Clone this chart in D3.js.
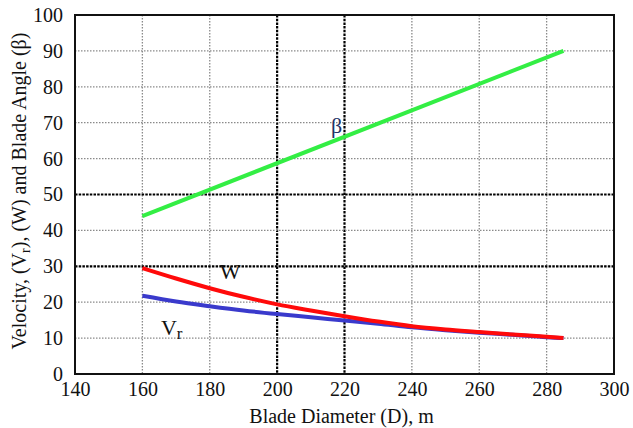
<!DOCTYPE html>
<html>
<head>
<meta charset="utf-8">
<script src="https://cdn.jsdelivr.net/npm/d3@7"></script>
</head>
<body style="margin:0;background:#fff;font-family:'Liberation Serif'">
<svg id="chart" width="633" height="428" style="font-family:'Liberation Serif'"></svg>
<script>

// Data
// ==============================================

var diameter = [160, 170, 180, 190, 200, 210, 220, 230, 240, 250, 260, 270, 280, 285];
var wValues  = [29.5, 26.6, 23.9, 21.5, 19.4, 17.7, 16.1, 14.6, 13.3, 12.4, 11.7, 11.0, 10.35, 10.0];
var vrValues = [21.8, 20.2, 18.9, 17.7, 16.7, 15.8, 14.9, 14.0, 13.0, 12.2, 11.5, 10.9, 10.25, 10.0];
var betaEnds = [[160, 44], [285, 90]];

var xTicks = [140, 160, 180, 200, 220, 240, 260, 280, 300];
var yTicks = [0, 10, 20, 30, 40, 50, 60, 70, 80, 90, 100];
var strongX = [200, 220];
var strongY = [30, 50];

function fontStyle(size){
	return "font-family:'Liberation Serif';font-size:" + size + "px";
}

// Layout
// ==============================================

var svg = d3.select("#chart"),
	margin = {top: 15, right: 19, bottom: 54, left: 75},
	width = 633 - margin.left - margin.right,
	height = 428 - margin.top - margin.bottom;

var g = svg.append("g")
	.attr("transform", "translate(" + margin.left + "," + margin.top + ")");

var xScale = d3.scaleLinear().domain([140, 300]).range([0, width]);
var yScale = d3.scaleLinear().domain([0, 100]).range([height, 0]);

// Grid
// ==============================================

function isStrong(d, axis){
	return (axis === "x" ? strongX : strongY).indexOf(d) >= 0;
}

g.selectAll("line.gx")
	.data(xTicks.slice(1, -1))
	.enter().append("line")
	.attr("class", "gx")
	.attr("x1", function(d){ return xScale(d); })
	.attr("x2", function(d){ return xScale(d); })
	.attr("y1", 0)
	.attr("y2", height)
	.attr("stroke", function(d){ return isStrong(d, "x") ? "#000" : "#8a8a8a"; })
	.attr("stroke-width", function(d){ return isStrong(d, "x") ? 2.2 : 1.3; })
	.attr("stroke-dasharray", function(d){ return isStrong(d, "x") ? "2.5,1.2" : "1.5,1.5"; });

g.selectAll("line.gy")
	.data(yTicks.slice(1, -1))
	.enter().append("line")
	.attr("class", "gy")
	.attr("y1", function(d){ return yScale(d); })
	.attr("y2", function(d){ return yScale(d); })
	.attr("x1", 0)
	.attr("x2", width)
	.attr("stroke", function(d){ return isStrong(d, "y") ? "#000" : "#8a8a8a"; })
	.attr("stroke-width", function(d){ return isStrong(d, "y") ? 2.2 : 1.3; })
	.attr("stroke-dasharray", function(d){ return isStrong(d, "y") ? "2.5,1.2" : "1.5,1.5"; });

// Axes
// ==============================================

var xAxis = g.append("g")
	.attr("transform", "translate(0," + height + ")")
	.call(d3.axisBottom(xScale).tickValues(xTicks).tickSize(0).tickPadding(8));

var yAxis = g.append("g")
	.call(d3.axisLeft(yScale).tickValues(yTicks).tickSize(0).tickPadding(12));

[xAxis, yAxis].forEach(function(a){
	a.attr("font-family", null).attr("font-size", null);
	a.select(".domain").remove();
	a.selectAll("text")
		.attr("style", fontStyle(20))
		.attr("fill", "#111");
});

// Lines
// ==============================================

var line = d3.line()
	.x(function(d){ return xScale(d[0]); })
	.y(function(d){ return yScale(d[1]); })
	.curve(d3.curveMonotoneX);

var vrData = diameter.map(function(d, i){ return [d, vrValues[i]]; });
var wData = diameter.map(function(d, i){ return [d, wValues[i]]; });

g.append("path").datum(betaEnds)
	.attr("d", line).attr("fill", "none")
	.attr("stroke", "#33ee44").attr("stroke-width", 4);

g.append("path").datum(vrData)
	.attr("d", line).attr("fill", "none")
	.attr("stroke", "#3a3acc").attr("stroke-width", 4);

g.append("path").datum(wData)
	.attr("d", line).attr("fill", "none")
	.attr("stroke", "#ff0a0a").attr("stroke-width", 4);

// Frame
// ==============================================

g.append("rect")
	.attr("width", width).attr("height", height)
	.attr("fill", "none").attr("stroke", "#111").attr("stroke-width", 2);

// Labels
// ==============================================

g.append("text")
	.attr("x", xScale(216)).attr("y", yScale(67))
	.attr("style", fontStyle(22)).attr("fill", "#223366")
	.text("β");

g.append("text")
	.attr("x", xScale(183)).attr("y", yScale(26.5))
	.attr("style", fontStyle(22)).attr("fill", "#111")
	.text("W");

var vr = g.append("text")
	.attr("x", xScale(165.5)).attr("y", yScale(10.8))
	.attr("style", fontStyle(22)).attr("fill", "#111");
vr.append("tspan").text("V");
vr.append("tspan").attr("dy", 4).attr("style", fontStyle(17)).text("r");

svg.append("text")
	.attr("x", margin.left + width / 2 - 3).attr("y", 423)
	.attr("text-anchor", "middle")
	.attr("style", fontStyle(20)).attr("fill", "#111")
	.text("Blade Diameter (D), m");

var yt = svg.append("text")
	.attr("transform", "translate(26," + 191 + ") rotate(-90)")
	.attr("text-anchor", "middle")
	.attr("style", fontStyle(20)).attr("fill", "#111");
yt.append("tspan").text("Velocity, (V");
yt.append("tspan").attr("dy", 4).attr("style", fontStyle(14)).text("r");
yt.append("tspan").attr("dy", -4).text("), (W) and Blade Angle (β)");

</script>
</body>
</html>
